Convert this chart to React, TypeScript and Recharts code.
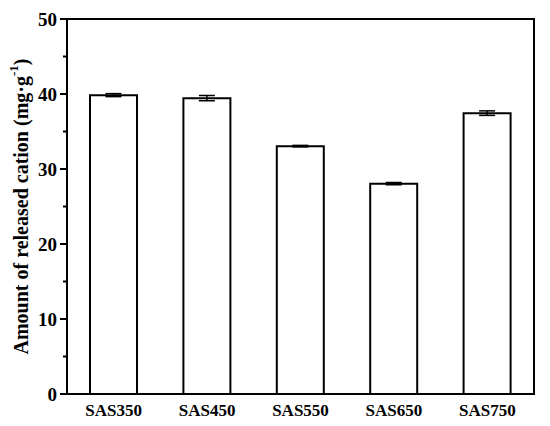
import React from 'react';
import * as Recharts from 'recharts';
import { BarChart, Bar, XAxis, YAxis, ErrorBar } from 'recharts';

const samples = ['SAS350', 'SAS450', 'SAS550', 'SAS650', 'SAS750'];
const released = [39.85, 39.45, 33.05, 28.05, 37.45];
const errors = [0.2, 0.35, 0.1, 0.15, 0.3];
const yTicks = [0, 5, 10, 15, 20, 25, 30, 35, 40, 45, 50];

const data = samples.map((name, i) => ({ name, value: released[i], err: errors[i] }));

const FONT = '"Liberation Serif", "Times New Roman", serif';

const W = 550;
const H = 426;
const M_TOP = 19;
const M_RIGHT = 16;
const Y_AXIS_W = 67;
const X_AXIS_H = 32;

const YTitle = () => {
  const R: any = Recharts;
  const area = R.usePlotArea ? R.usePlotArea() : null;
  if (!area) return null;
  const cx = 21;
  const cy = area.y + area.height / 2;
  return (
    <text
      x={cx}
      y={cy}
      transform={`rotate(-90, ${cx}, ${cy})`}
      textAnchor="middle"
      dominantBaseline="central"
      fontFamily={FONT}
      fontWeight="bold"
      fontSize={20}
      fill="#000"
    >
      Amount of released cation (mg·g
      <tspan fontSize={13} dy={-8}>-1</tspan>
      <tspan dy={8}>)</tspan>
    </text>
  );
};

const YTick = (props: any) => {
  const { x, y, payload } = props;
  const axisX = x + 6;
  const major = payload.value % 10 === 0;
  return (
    <g>
      <line x1={axisX} x2={axisX - (major ? 7 : 4)} y1={y} y2={y} stroke="#000" strokeWidth={2} />
      {major && (
        <text x={axisX - 10} y={y} dy={6.5} textAnchor="end" fontFamily={FONT} fontWeight="bold" fontSize={19} fill="#000">
          {payload.value}
        </text>
      )}
    </g>
  );
};

const XTick = (props: any) => {
  const { x, y, payload } = props;
  return (
    <text x={x} y={y} dy={16} textAnchor="middle" fontFamily={FONT} fontWeight="bold" fontSize={17} fill="#000">
      {payload.value}
    </text>
  );
};

export default function App() {
  return (
    <div style={{ position: 'absolute', left: 0, top: 0, width: W, height: H, background: '#fff' }}>
      <BarChart width={W} height={H} data={data} margin={{ top: M_TOP, right: M_RIGHT, left: 0, bottom: 0 }} barCategoryGap="0%">
        <XAxis
          dataKey="name"
          height={X_AXIS_H}
          tickLine={false}
          axisLine={{ stroke: '#000', strokeWidth: 2 }}
          tick={<XTick />}
          tickMargin={0}
          interval={0}
        />
        <YAxis
          width={Y_AXIS_W}
          domain={[0, 50]}
          ticks={yTicks}
          interval={0}
          tickLine={false}
          tickSize={6}
          tickMargin={0}
          axisLine={{ stroke: '#000', strokeWidth: 2 }}
          tick={<YTick />}
        />
        <YTitle />
        <Bar dataKey="value" fill="#fff" stroke="#000" strokeWidth={2} barSize={47} isAnimationActive={false}>
          <ErrorBar dataKey="err" width={8} stroke="#000" strokeWidth={1.5} />
        </Bar>
      </BarChart>
      {/* top and right edges of the plot box */}
      <div
        style={{
          position: 'absolute',
          left: Y_AXIS_W,
          top: M_TOP - 1,
          width: W - Y_AXIS_W - M_RIGHT - 1,
          height: H - M_TOP - X_AXIS_H,
          borderTop: '2px solid #000',
          borderRight: '2px solid #000',
          pointerEvents: 'none',
        }}
      />
    </div>
  );
}
